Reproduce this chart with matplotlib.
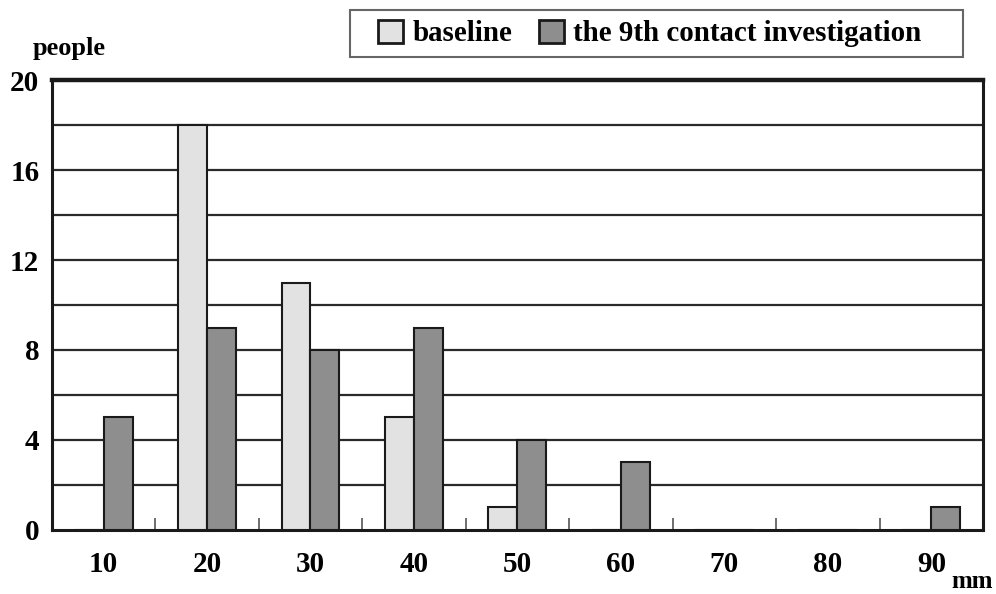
import matplotlib.pyplot as plt
from matplotlib.patches import Rectangle
import numpy as np

categories = ['10', '20', '30', '40', '50', '60', '70', '80', '90']
baseline = [0, 18, 11, 5, 1, 0, 0, 0, 0]
ninth = [5, 9, 8, 9, 4, 3, 0, 0, 1]
yticks = [0, 4, 8, 12, 16, 20]

plt.rcParams['font.family'] = ['Liberation Serif', 'DejaVu Serif']
plt.rcParams['font.weight'] = 'bold'

fig = plt.figure(figsize=(9.96, 5.94), dpi=100)
ax = fig.add_axes([0.052, 0.108, 0.935, 0.757])

x = np.arange(len(categories))
w = 0.28
ax.bar(x - w / 2, baseline, w, color='#e2e2e2', edgecolor='#1a1a1a',
       linewidth=1.5, label='baseline', zorder=3)
ax.bar(x + w / 2, ninth, w, color='#8e8e8e', edgecolor='#1a1a1a',
       linewidth=1.5, label='the 9th contact investigation', zorder=3)

ax.set_xlim(-0.5, len(categories) - 0.5)
ax.set_ylim(0, 20)
for g in range(2, 20, 2):
    ax.axhline(g, color='#2a2a2a', linewidth=1.6, zorder=1)

ax.set_yticks(yticks)
ax.set_yticklabels([str(v) for v in yticks], fontsize=21, fontweight='bold')
ax.set_xticks(x)
ax.set_xticklabels(categories, fontsize=21, fontweight='bold')
ax.tick_params(axis='x', length=0, pad=15)
ax.tick_params(axis='y', length=0, pad=9)
ax.set_xticks(np.arange(0.5, len(categories) - 0.5, 1), minor=True)
ax.tick_params(axis='x', which='minor', direction='in', length=9,
               width=1.2, color='#555555')

for side in ['left', 'right', 'bottom']:
    ax.spines[side].set_linewidth(2.2)
    ax.spines[side].set_color('#1a1a1a')
ax.spines['top'].set_linewidth(3.2)
ax.spines['top'].set_color('#1a1a1a')

fig.text(0.033, 0.918, 'people', fontsize=19, fontweight='bold', ha='left', va='center')
fig.text(0.997, 0.021, 'mm', fontsize=18, fontweight='bold', ha='right', va='center')

leg = ax.legend(loc='center', bbox_to_anchor=(0.6526, 0.9436),
                bbox_transform=fig.transFigure, ncol=2, frameon=False,
                handlelength=0.86, handleheight=0.86,
                handletextpad=0.33, columnspacing=0.9, borderpad=0.3,
                borderaxespad=0, prop={'weight': 'bold', 'size': 20.9})
for h in leg.legend_handles:
    h.set_linewidth(2)

# legend frame, wider than the legend contents as in the original
fig.patches.append(Rectangle((350 / 996, 1 - 57 / 594), 613 / 996, 47 / 594,
                             transform=fig.transFigure, fill=False,
                             edgecolor='#666666', linewidth=1.5))

fig.savefig('out.png', dpi=100, facecolor='white')
